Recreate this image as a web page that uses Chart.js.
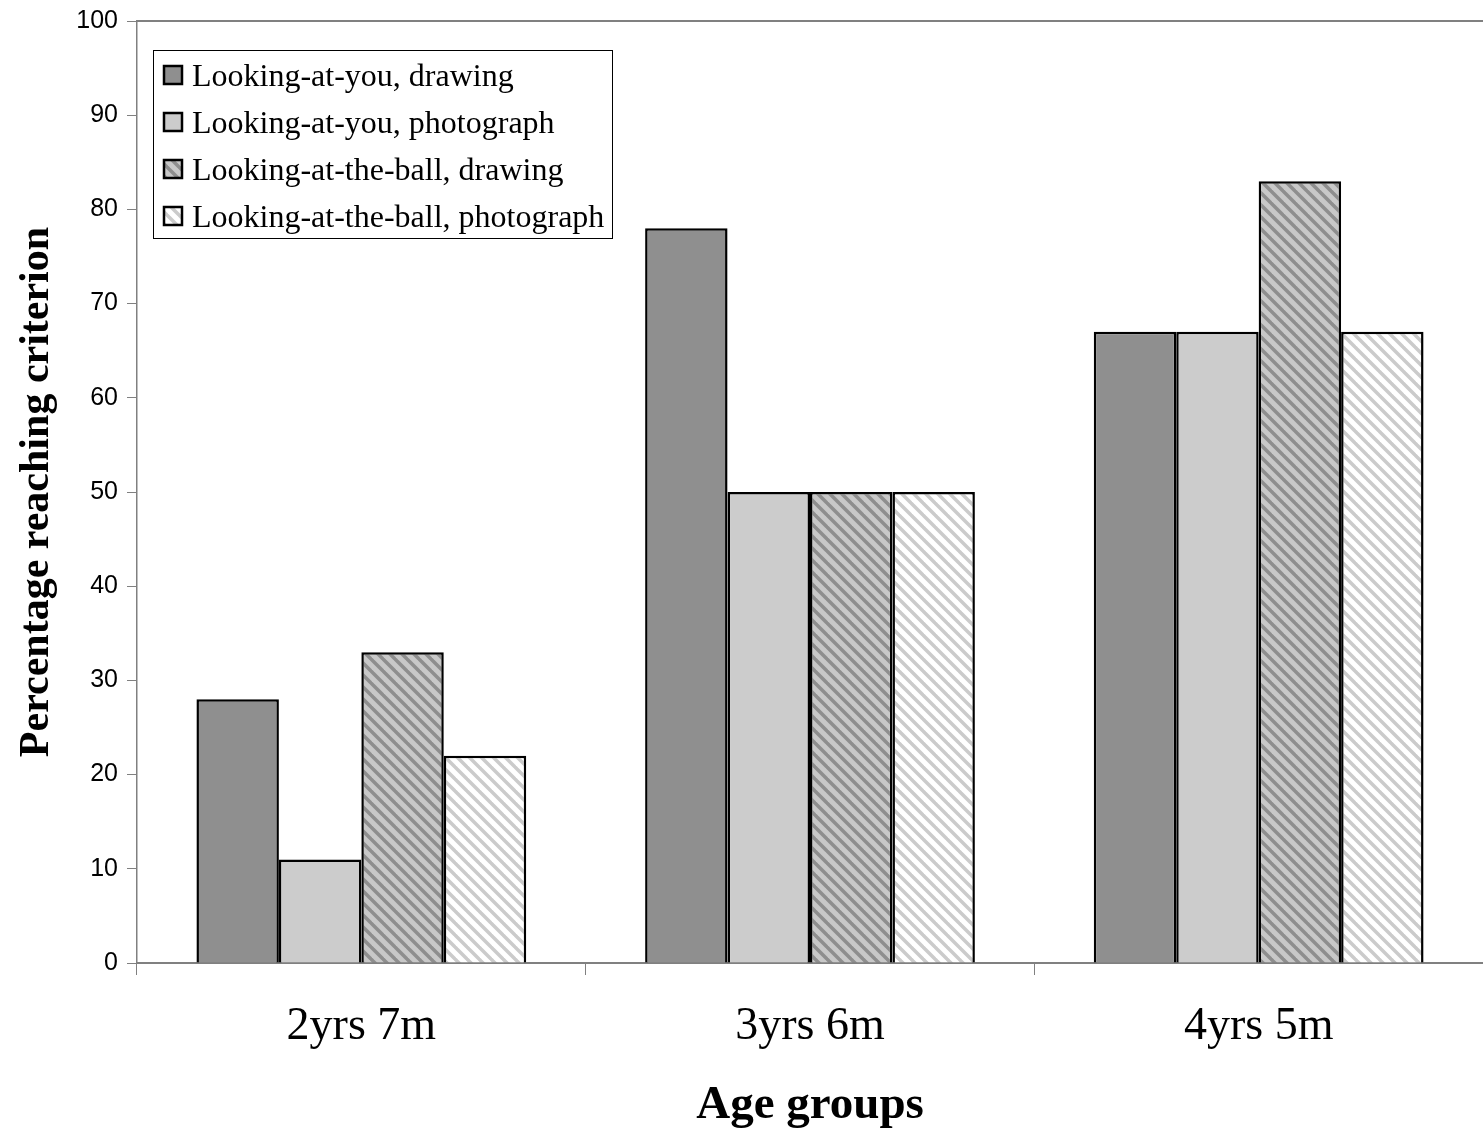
<!DOCTYPE html>
<html>
<head>
<meta charset="utf-8">
<script src="https://cdn.jsdelivr.net/npm/chart.js@4.4.0/dist/chart.umd.min.js"></script>
<style>
  html, body { margin: 0; padding: 0; background: #fff; }
  #wrap { width: 1483px; height: 1137px; }
</style>
</head>
<body>
<div id="wrap"><canvas id="chart" width="1483" height="1137"></canvas></div>
<script>
// data
const ageGroups = ["2yrs 7m", "3yrs 6m", "4yrs 5m"];
const seriesNames = [
  "Looking-at-you, drawing",
  "Looking-at-you, photograph",
  "Looking-at-the-ball, drawing",
  "Looking-at-the-ball, photograph"
];
const youDrawing = [28, 78, 67];
const youPhoto = [11, 50, 67];
const ballDrawing = [33, 50, 83];
const ballPhoto = [22, 50, 67];
const yTicks = [0, 10, 20, 30, 40, 50, 60, 70, 80, 90, 100];

//Diagonal hatch fill
function makeHatch(bg, stripe){
  const p = 12;
  const c = document.createElement("canvas");
  c.width = p; c.height = p;
  const g = c.getContext("2d");
  g.fillStyle = bg;
  g.fillRect(0, 0, p, p);
  g.strokeStyle = stripe;
  g.lineWidth = 3.5;
  for (let k = -1; k <= 1; k++){
    g.beginPath();
    g.moveTo(k*p - 1, -1);
    g.lineTo(k*p + p + 1, p + 1);
    g.stroke();
  }
  return g.createPattern(c, "repeat");
}

const fills = [
  "#8f8f8f",
  "#cccccc",
  makeHatch("#c8c8c8", "#8e8e8e"),
  makeHatch("#ffffff", "#cbcbcb")
];

//Legend box and top frame line
const boxLegend = {
  id: "boxLegend",
  afterDraw(chart){
    const ctx = chart.ctx;
    const area = chart.chartArea;
    ctx.save();
    ctx.strokeStyle = "#808080";
    ctx.lineWidth = 2;
    ctx.beginPath();
    ctx.moveTo(area.left, area.top);
    ctx.lineTo(area.right, area.top);
    ctx.stroke();

    ctx.fillStyle = "#fff";
    ctx.fillRect(153, 50, 459, 188);
    ctx.strokeStyle = "#000";
    ctx.lineWidth = 1;
    ctx.strokeRect(153.5, 50.5, 459, 188);

    ctx.font = "32px 'Liberation Serif', 'Times New Roman', serif";
    ctx.textBaseline = "middle";
    for (let i = 0; i < seriesNames.length; i++){
      const cy = 75 + i*47;
      ctx.fillStyle = fills[i];
      ctx.fillRect(164, cy - 9, 18, 18);
      ctx.strokeStyle = "#000";
      ctx.lineWidth = 2.5;
      ctx.strokeRect(164, cy - 9, 18, 18);
      ctx.fillStyle = "#000";
      ctx.fillText(seriesNames[i], 192, cy + 3);
    }
    ctx.restore();
  }
};

const datasets = [youDrawing, youPhoto, ballDrawing, ballPhoto].map((vals, i) => ({
  label: seriesNames[i],
  data: vals,
  backgroundColor: fills[i],
  borderColor: "#000",
  borderWidth: 2.5,
  categoryPercentage: 0.735,
  barPercentage: 1.0
}));

new Chart(document.getElementById("chart"), {
  type: "bar",
  data: { labels: ageGroups, datasets: datasets },
  plugins: [boxLegend],
  options: {
    responsive: false,
    animation: false,
    layout: { padding: { top: 21, right: 0, left: 0, bottom: 0 } },
    plugins: {
      legend: { display: false },
      tooltip: { enabled: false }
    },
    scales: {
      x: {
        afterFit: (scale) => { scale.height = 174; },
        grid: {
          offset: true,
          drawOnChartArea: false,
          tickLength: 12,
          color: "#808080",
          lineWidth: 1
        },
        border: { color: "#808080", width: 2 },
        ticks: {
          color: "#000",
          padding: 24,
          font: { family: "'Liberation Serif', 'Times New Roman', serif", size: 46 }
        },
        title: {
          display: true,
          text: "Age groups",
          color: "#000",
          padding: { top: 0, bottom: 3 },
          font: { family: "'Liberation Serif', 'Times New Roman', serif", size: 47, weight: "bold" }
        }
      },
      y: {
        min: 0,
        max: 100,
        afterFit: (scale) => {
          scale.width = 137;
          scale.paddingTop = 0;
          scale.paddingBottom = 0;
        },
        afterBuildTicks: (scale) => { scale.ticks = yTicks.map(v => ({ value: v })); },
        grid: {
          drawOnChartArea: false,
          tickLength: 10,
          color: "#808080",
          lineWidth: 1
        },
        border: { color: "#808080", width: 1.5 },
        ticks: {
          color: "#000",
          padding: 9,
          font: { family: "'Liberation Sans', Arial, sans-serif", size: 25 }
        },
        title: {
          display: true,
          text: "Percentage reaching criterion",
          color: "#000",
          padding: { top: 12, bottom: 0 },
          font: { family: "'Liberation Serif', 'Times New Roman', serif", size: 42, weight: "bold" }
        }
      }
    }
  }
});
</script>
</body>
</html>
